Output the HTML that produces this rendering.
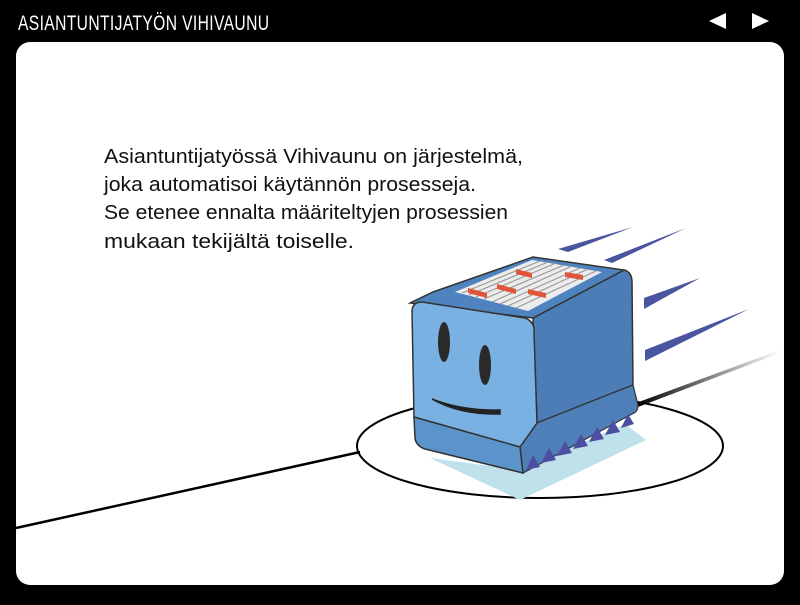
<!DOCTYPE html>
<html><head><meta charset="utf-8"><style>
html,body{margin:0;padding:0;background:#000;width:800px;height:605px;overflow:hidden}
</style></head><body>
<svg width="800" height="605" viewBox="0 0 800 605" xmlns="http://www.w3.org/2000/svg">
<defs><linearGradient id="fade" x1="0" x2="1"><stop offset="0" stop-color="#000"/><stop offset="1" stop-color="#000" stop-opacity="0"/></linearGradient></defs>
<rect width="800" height="605" fill="#000"/>
<text x="18" y="30" fill="#fff" font-family="Liberation Sans, sans-serif" font-size="21" transform="translate(18 0) scale(0.745 1) translate(-18 0)" letter-spacing="0.5">ASIANTUNTIJATYÖN VIHIVAUNU</text>
<polygon points="709,21 726,13 726,29" fill="#fff"/>
<polygon points="752,13 769,21 752,29" fill="#fff"/>
<rect x="16" y="42" width="768" height="543" rx="14" fill="#fff"/>
<g font-family="Liberation Sans, sans-serif" font-size="20" fill="#111">
<text x="104" y="163" textLength="419" lengthAdjust="spacingAndGlyphs">Asiantuntijatyössä Vihivaunu on järjestelmä,</text>
<text x="104" y="191" textLength="372" lengthAdjust="spacingAndGlyphs">joka automatisoi käytännön prosesseja.</text>
<text x="104" y="219" textLength="404" lengthAdjust="spacingAndGlyphs">Se etenee ennalta määriteltyjen prosessien</text>
<text x="104" y="248" textLength="250" lengthAdjust="spacingAndGlyphs">mukaan tekijältä toiselle.</text>
</g>
<line x1="16" y1="528" x2="360" y2="452" stroke="#000" stroke-width="2.5"/>
<ellipse cx="540" cy="446" rx="183" ry="52" fill="none" stroke="#000" stroke-width="2"/>
<polygon points="636,403 780,350 780,353 638,407" fill="url(#fade)"/>
<polygon points="430,458 520,500 646,440 625,424 520,470" fill="#bfe1ec"/>
<g fill="#4a55a0">
<polygon points="558,249 633,227 568,252"/>
<polygon points="604,260 686,228 612,263"/>
<polygon points="644,298 700,278 644,309"/>
<polygon points="645,350 749,309 645,361"/>
</g>
<path d="M533,318 L624,270 Q632,272 632,282 L633,385 L537,423 Z" fill="#4c7db7" stroke="#333" stroke-width="1.5"/>
<path d="M537,423 L633,385 L638,405 Q638,412 632,414 L523,473 L520,447 Z" fill="#4f7fb8" stroke="#333" stroke-width="1.2"/>
<g fill="#4c4fa0">
<polygon points="526,470 533,455 540,467"/><polygon points="541,463 549,448 556,460"/>
<polygon points="557,456 565,441 572,453"/><polygon points="573,449 581,434 588,446"/>
<polygon points="589,442 597,427 604,439"/><polygon points="605,435 613,420 620,432"/>
<polygon points="621,428 628,414 634,424"/>
</g>
<path d="M410,303 L433,292 L533,257 L624,270 L533,318 Z" fill="#4f83bf" stroke="#333" stroke-width="1.5"/>
<polygon points="455,292 532,260 602,272 528,311" fill="#ececec"/>
<g stroke="#9a9a9a" stroke-width="1.2">
<line x1="462" y1="293" x2="540" y2="261"/><line x1="469" y1="295" x2="548" y2="262"/>
<line x1="476" y1="297" x2="556" y2="263"/><line x1="484" y1="299" x2="564" y2="265"/>
<line x1="492" y1="302" x2="572" y2="266"/><line x1="500" y1="304" x2="580" y2="268"/>
<line x1="508" y1="306" x2="588" y2="269"/><line x1="516" y1="308" x2="596" y2="271"/>
</g>
<g fill="#e0553a">
<polygon points="468,288 487,293 487,298 468,293"/>
<polygon points="497,284 516,289 516,294 497,289"/>
<polygon points="516,269 532,273 532,278 516,274"/>
<polygon points="528,289 546,293 546,298 528,294"/>
<polygon points="565,272 583,275 583,280 565,277"/>
</g>
<path d="M412,312 Q412,302 422,302 L525,318 Q535,322 534,332 L537,423 L520,447 L414,417 Z" fill="#79b1e3" stroke="#333" stroke-width="1.5"/>
<path d="M414,417 L520,447 L523,473 L425,449 Q416,446 415,438 Z" fill="#5b93cb" stroke="#333" stroke-width="1.5"/>
<ellipse cx="444" cy="342" rx="6" ry="20" fill="#2a2a2a"/>
<ellipse cx="485" cy="365" rx="6" ry="20" fill="#2a2a2a"/>
<path d="M432,399 Q460,415 500,414 L500,410 Q462,411 432,399 Z" fill="#222" stroke="#222" stroke-width="1.5"/>
</svg>
</body></html>
